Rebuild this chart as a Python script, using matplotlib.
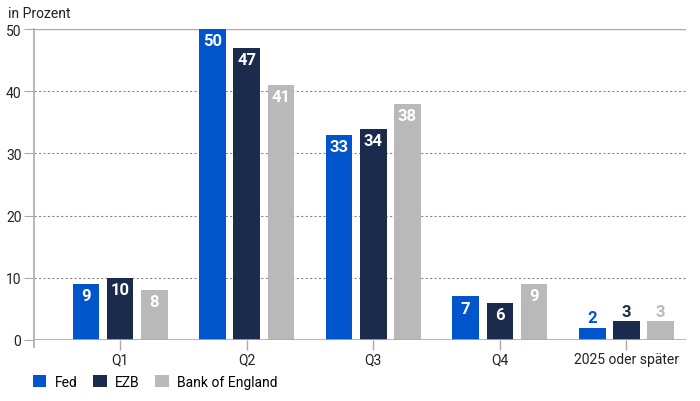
import matplotlib
matplotlib.use("Agg")
import matplotlib.pyplot as plt
import numpy as np
from matplotlib.patches import Patch

plt.rcParams['font.family'] = ['Roboto', 'DejaVu Sans']

categories = ["Q1", "Q2", "Q3", "Q4", "2025 oder später"]
series_names = ["Fed", "EZB", "Bank of England"]
fed = [9, 50, 33, 7, 2]
ezb = [10, 47, 34, 6, 3]
boe = [8, 41, 38, 9, 3]
colors = ["#0055CC", "#1B2B4B", "#B9B9B9"]
yticks = [0, 10, 20, 30, 40, 50]

fig = plt.figure(figsize=(7.0, 4.02), dpi=100)
ax = fig.add_axes([34/700, 1-341/402, (686-34)/700, (341-30)/402])

x = np.arange(len(categories))
width = 0.21
offset = 0.27
for i, (vals, col) in enumerate(zip([fed, ezb, boe], colors)):
    pos = x + (i - 1) * offset
    bars = ax.bar(pos, vals, width, color=col, zorder=3)
    for b, v in zip(bars, vals):
        cx = b.get_x() + b.get_width() / 2
        if v > 4:
            ax.annotate(str(v), (cx, v), xytext=(0, -3), textcoords="offset points",
                        ha="center", va="top", color="white", fontsize=12,
                        fontweight="bold", zorder=4)
        else:
            ax.annotate(str(v), (cx, v), xytext=(0, 2), textcoords="offset points",
                        ha="center", va="bottom", color=col, fontsize=12,
                        fontweight="bold", zorder=4)

ax.set_xlim(-0.68, 4.47)
ax.set_ylim(0, 50)
ax.set_yticks(yticks)
ax.set_yticklabels([str(t) for t in yticks], fontsize=10, color="#222222")
ax.set_xticks(x)
ax.set_xticklabels(categories, fontsize=10, color="#222222")

for t in yticks[1:-1]:
    ax.axhline(t, color="#888888", lw=0.8, ls=(0, (2, 2)), zorder=1)
ax.axhline(50, color="#AAAAAA", lw=1.0, zorder=1)
ax.axhline(0, color="#AAAAAA", lw=1.2, zorder=5)

for s in ["top", "right", "bottom"]:
    ax.spines[s].set_visible(False)
ax.spines["left"].set_color("#AAAAAA")
ax.spines["left"].set_linewidth(1.2)
ax.spines["left"].set_bounds(-1.2, 50)
ax.tick_params(axis="y", length=7, color="#AAAAAA", width=0.8, pad=2)
ax.tick_params(axis="x", length=7, color="#AAAAAA", width=1.0, pad=2)

fig.text(8/700, 1-14/402, "in Prozent", fontsize=10, color="#222222", va="center", ha="left")

handles = [Patch(facecolor=c, edgecolor="none") for c in colors]
fig.legend(handles, series_names, loc="center left", bbox_to_anchor=(27/700, 1-383/402),
           ncol=3, frameon=False, fontsize=10, handlelength=1.0, handleheight=1.0,
           handletextpad=0.6, columnspacing=1.1, borderaxespad=0)

fig.savefig("out.png", dpi=100)
